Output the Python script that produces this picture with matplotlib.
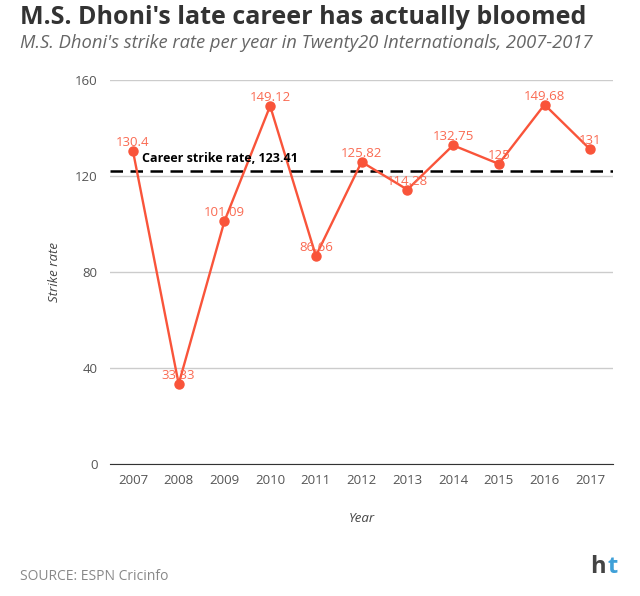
import matplotlib
matplotlib.use('Agg')
import matplotlib.pyplot as plt

years = ['2007', '2008', '2009', '2010', '2011', '2012', '2013', '2014', '2015', '2016', '2017']
strike_rate = [130.4, 33.33, 101.09, 149.12, 86.66, 125.82, 114.28, 132.75, 125, 149.68, 131]
labels = ['130.4', '33.33', '101.09', '149.12', '86.66', '125.82', '114.28', '132.75', '125', '149.68', '131']
career_sr = 123.41
yticks = [0, 40, 80, 120, 160]

plt.rcParams['font.family'] = ['Open Sans', 'DejaVu Sans']

fig = plt.figure(figsize=(6.4, 5.96), dpi=100)
ax = fig.add_axes([0.172, 0.2215, 0.786, 0.6445])

line_col = '#f9543a'
lab_col = '#fa6a52'
x = range(len(years))
ax.plot(x, strike_rate, color=line_col, lw=1.7, marker='o', ms=6.5, zorder=3)
for i, (v, t) in enumerate(zip(strike_rate, labels)):
    ax.annotate(t, (i, v), xytext=(0, 1.5), textcoords='offset points',
                ha='center', va='bottom', color=lab_col, fontsize=9.5, zorder=4)

ax.axhline(career_sr - 1.4, color='black', lw=1.8, ls=(0, (5, 3)), zorder=2)
ax.text(0.2, career_sr + 1.0, 'Career strike rate, 123.41', fontsize=9,
        fontweight='bold', color='black', va='bottom', ha='left')

ax.set_xlim(-0.5, len(years) - 0.5)
ax.set_ylim(0, 160)
ax.set_yticks(yticks)
ax.set_xticks(list(x))
ax.set_xticklabels(years)
ax.grid(axis='y', color='#cccccc', lw=1)
ax.set_axisbelow(True)
for s in ['top', 'right', 'left']:
    ax.spines[s].set_visible(False)
ax.spines['bottom'].set_color('#333333')
ax.tick_params(axis='both', length=0, labelsize=9.5, colors='#555555')
ax.tick_params(axis='y', pad=9)
ax.tick_params(axis='x', pad=7)
ax.set_xlabel('Year', fontsize=9.5, style='italic', color='#444444', labelpad=18)
ax.set_ylabel('Strike rate', fontsize=9.5, style='italic', color='#444444', labelpad=10)

fig.text(20 / 640, 1 - 17 / 596, "M.S. Dhoni's late career has actually bloomed",
         fontsize=18, fontweight='bold', color='#333333', va='center', ha='left')
fig.text(20 / 640, 1 - 43 / 596, "M.S. Dhoni's strike rate per year in Twenty20 Internationals, 2007-2017",
         fontsize=13.2, style='italic', color='#666666', va='center', ha='left')
fig.text(20 / 640, 1 - 576 / 596, 'SOURCE: ESPN Cricinfo', fontsize=10,
         color='#888888', va='center', ha='left')
fig.text(590 / 640, 1 - 567 / 596, 'h', fontsize=17, fontweight='bold',
         color='#444444', va='center', ha='left')
fig.text(607 / 640, 1 - 567 / 596, 't', fontsize=17, fontweight='bold',
         color='#3fa0d8', va='center', ha='left')

fig.savefig('out.png', dpi=100)
